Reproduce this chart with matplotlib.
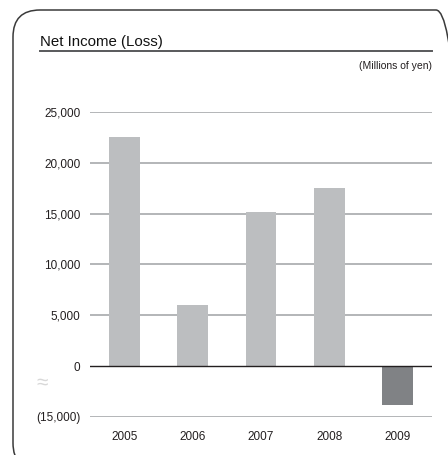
import numpy as np
import matplotlib.pyplot as plt
from matplotlib.patches import FancyBboxPatch
from matplotlib.lines import Line2D
from matplotlib.ticker import FuncFormatter

plt.rcParams["font.family"] = ["Liberation Sans", "DejaVu Sans"]

years = ["2005", "2006", "2007", "2008", "2009"]
net_income = [22500, 6000, 15200, 17500, -11400]
y_ticks = [-15000, 0, 5000, 10000, 15000, 20000, 25000]

W, H = 448, 455
fig = plt.figure(figsize=(W / 100, H / 100), dpi=100)

# rounded frame around the whole panel
frame = FancyBboxPatch((13, -15), 450, 455 - 10 + 15, boxstyle="round,pad=0,rounding_size=27",
                       transform=None, facecolor="none", edgecolor="#3a3a3a", linewidth=1.1)
fig.patches.append(frame)

# title with rule underneath
fig.text(40 / W, 1 - 46 / H, "Net Income (Loss)", fontsize=10.8, color="#111111", va="baseline")
fig.add_artist(Line2D([40 / W, 432 / W], [1 - 51 / H, 1 - 51 / H], transform=fig.transFigure,
                      color="#58595b", linewidth=1.4))
fig.text(432 / W, 1 - 69 / H, "(Millions of yen)", fontsize=7.5, color="#231f20",
         ha="right", va="baseline")

ax = fig.add_axes([90 / W, 38 / H, 342 / W, 305 / H])

# losses are drawn on a compressed scale below zero
def fwd(v):
    v = np.asarray(v, dtype=float)
    return np.where(v >= 0, v, v / 3)

def inv(p):
    p = np.asarray(p, dtype=float)
    return np.where(p >= 0, p, p * 3)

ax.set_yscale("function", functions=(fwd, inv))
ax.set_ylim(-15000, 25000)

x = np.arange(len(years))
colors = ["#bcbec0" if v >= 0 else "#808285" for v in net_income]
ax.bar(x, net_income, width=0.45, color=colors, zorder=2)
ax.set_xlim(-0.5, len(years) - 0.5)

ax.set_yticks(y_ticks)
ax.yaxis.set_major_formatter(FuncFormatter(
    lambda v, _: f"({abs(v):,.0f})" if v < 0 else f"{v:,.0f}"))
ax.set_xticks(x)
ax.set_xticklabels(years)
ax.tick_params(axis="both", length=0, labelsize=8.5, colors="#231f20")
ax.tick_params(axis="y", pad=7)
ax.tick_params(axis="x", pad=10)

for t in y_ticks:
    if t == 0:
        ax.axhline(t, color="#231f20", linewidth=1.0, zorder=3)
    else:
        ax.axhline(t, color="#a7a9ac", linewidth=1.2, zorder=1)

for s in ax.spines.values():
    s.set_visible(False)

# axis break mark
ax.text(-0.14, -5000, "≈", transform=ax.get_yaxis_transform(), fontsize=15,
        color="#d8d8d8", ha="center", va="center")

fig.savefig("out.png", dpi=100)
